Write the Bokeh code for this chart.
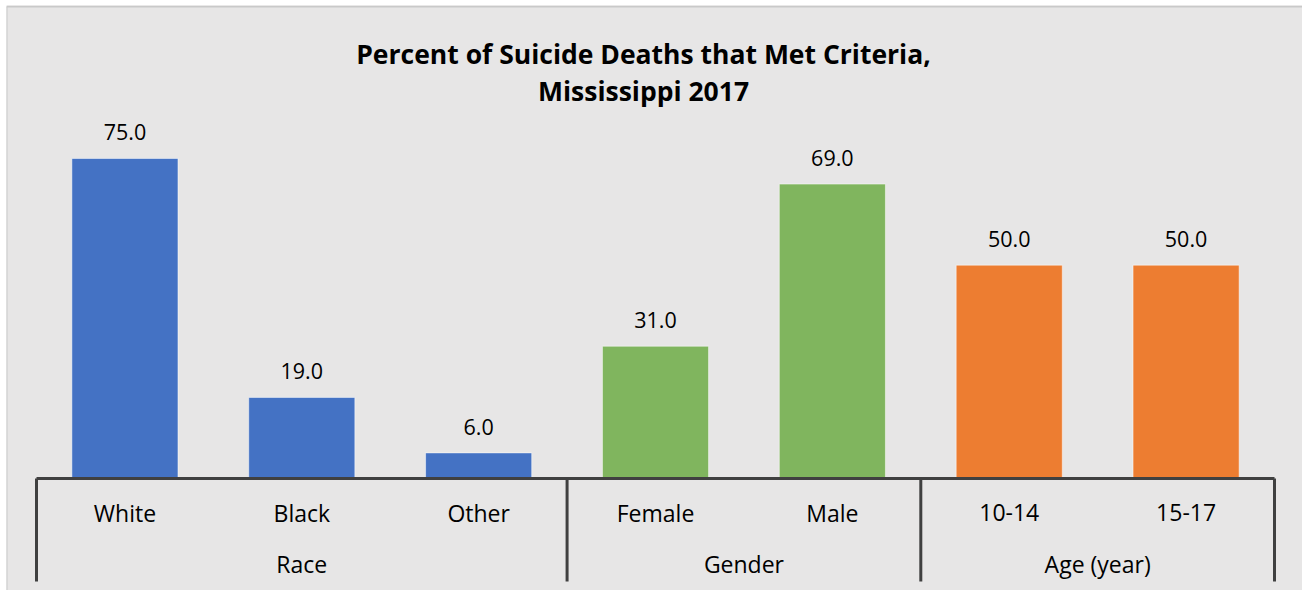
from bokeh.plotting import figure
from bokeh.models import Range1d, ColumnDataSource, Label
from bokeh.core.properties import value
from bokeh.embed import file_html
from bokeh.resources import INLINE

# ---- data ----
categories = ["White", "Black", "Other", "Female", "Male", "10-14", "15-17"]
values = [75.0, 19.0, 6.0, 31.0, 69.0, 50.0, 50.0]
groups = ["Race", "Gender", "Age (year)"]
group_sizes = [3, 2, 2]
group_colors = ["#4472c4", "#80b55e", "#ed7d31"]
title_lines = ["Percent of Suicide Deaths that Met Criteria,", "Mississippi 2017"]

# ---- layout helpers (image pixel -> data) ----
W, H = 1302, 590
FX0, FY0 = 6, 5                # frame (chart area) top-left in image pixels
AX_X0, SLOT = 36.0, 176.86     # x of axis start, px per category slot
AX_Y0, PXU = 478.0, 4.267      # y of value 0, px per unit


def ux(px):
    return (px - AX_X0) / SLOT


def vy(py):
    return (AX_Y0 - py) / PXU


FONT = "Open Sans"
BG = "#e7e6e6"

p = figure(width=W, height=H, title=None,
           x_range=Range1d(ux(FX0), ux(W)),
           y_range=Range1d(vy(H), vy(FY0)),
           toolbar_location=None, output_backend="svg",
           min_border=0, min_border_left=FX0, min_border_right=0,
           min_border_top=FY0, min_border_bottom=0,
           background_fill_color=BG, border_fill_color="#ffffff",
           outline_line_color=None)
p.axis.visible = False
p.grid.visible = False

# chart-area border (top and left edges visible in the reference)
BORDER = "#c9c9c9"
p.segment(x0=[ux(FX0), ux(FX0)], y0=[vy(FY0 + 1), vy(FY0 + 1)],
          x1=[ux(W), ux(FX0)], y1=[vy(FY0 + 1), vy(H)],
          line_color=BORDER, line_width=2)

bar_colors = []
for g, n, c in zip(groups, group_sizes, group_colors):
    bar_colors += [c] * n

xs = [i + 0.5 for i in range(len(categories))]
src = ColumnDataSource(dict(x=xs, top=values, color=bar_colors, cat=categories,
                            lbl=["%.1f" % v for v in values]))

p.vbar(x="x", top="top", bottom=0, width=0.6, fill_color="color",
       line_color="white", line_alpha=0.5, line_width=1, source=src)

# value labels above bars
p.text(x="x", y="top", text="lbl", source=src, y_offset=-26,
       text_align="center", text_baseline="middle",
       text_font=value(FONT), text_font_size="21.5px", text_color="#000000")

# category labels (first row)
p.text(x="x", y=vy(512), text="cat", source=src,
       text_align="center", text_baseline="middle",
       text_font=value(FONT), text_font_size="23px", text_color="#000000")

# group labels and separators
bounds = [0]
for n in group_sizes:
    bounds.append(bounds[-1] + n)
gx = [(bounds[i] + bounds[i + 1]) / 2 for i in range(len(groups))]
p.text(x=gx, y=[vy(563)] * len(groups), text=groups,
       text_align="center", text_baseline="middle",
       text_font=value(FONT), text_font_size="23px", text_color="#000000")

AXC = "#404040"
p.segment(x0=bounds, y0=[0] * len(bounds), x1=bounds, y1=[vy(581)] * len(bounds),
          line_color=AXC, line_width=3)
p.segment(x0=[0], y0=[0], x1=[len(categories)], y1=[0], line_color=AXC, line_width=3)

# title
for line, py in zip(title_lines, [53, 90]):
    p.add_layout(Label(x=ux(643), y=vy(py), text=line, text_align="center",
                       text_baseline="middle", text_font=FONT,
                       text_font_size="26.5px", text_font_style="bold",
                       text_color="#000000"))

open("out.html", "w").write(file_html(p, INLINE))
